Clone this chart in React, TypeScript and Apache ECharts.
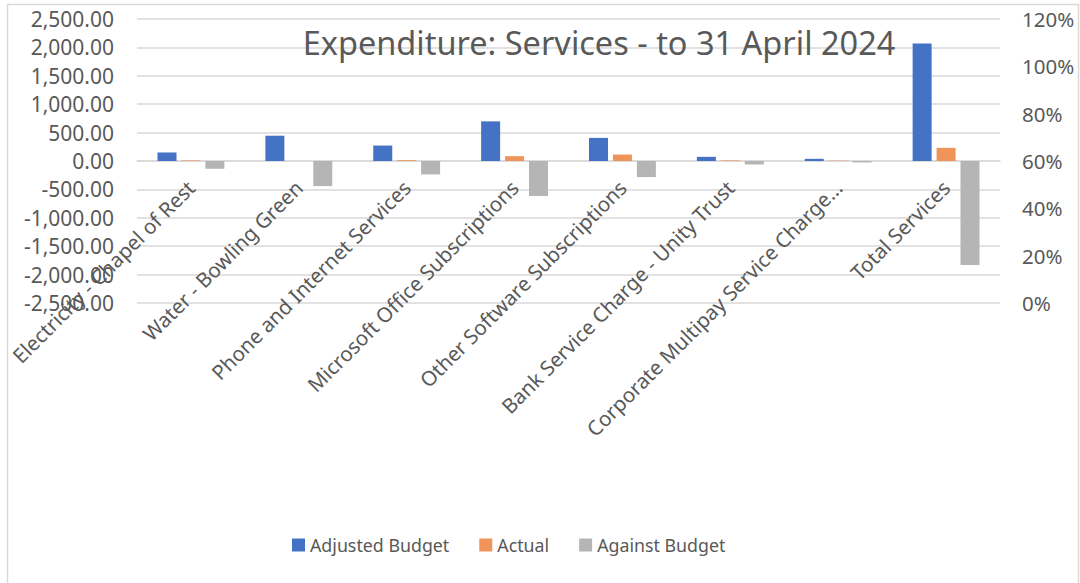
import React, { useEffect, useRef } from "react";
import * as echarts from "echarts";

const categories = [
  "Electricity - Chapel of Rest",
  "Water - Bowling Green",
  "Phone and Internet Services",
  "Microsoft Office Subscriptions",
  "Other Software Subscriptions",
  "Bank Service Charge - Unity Trust",
  "Corporate Multipay Service Charge…",
  "Total Services",
];
const adjustedBudget = [150, 445, 272, 698, 407, 73, 38, 2070];
const actual = [10, 0, 15, 85, 114, 10, 6, 232];
const againstBudget = [-137, -442, -237, -617, -284, -61, -26, -1833];
const leftTicks = { min: -2500, max: 2500, interval: 500 };
const rightTicks = { min: 0, max: 1.2, interval: 0.2 };

const FONT = "'Noto Sans', 'Open Sans', sans-serif";
const TEXT = "#595959";

export default function App() {
  const ref = useRef<HTMLDivElement>(null);
  useEffect(() => {
    if (!ref.current) return;
    const chart = echarts.init(ref.current, undefined, { renderer: "svg" });
    chart.setOption({
      animation: false,
      backgroundColor: "#ffffff",
      textStyle: { fontFamily: FONT },
      title: {
        text: "Expenditure: Services - to 31 April 2024",
        left: 594,
        textAlign: "center",
        top: 21,
        textStyle: { fontFamily: FONT, fontSize: 32.5, fontWeight: "normal", color: TEXT },
      },
      graphic: [
        {
          type: "rect",
          shape: { x: 7.5, y: 4.5, width: 1071, height: 600 },
          style: { fill: "none", stroke: "#d9d9d9", lineWidth: 1.5 },
          silent: true,
        },
      ],
      legend: {
        bottom: 24,
        left: 287,
        itemWidth: 13,
        itemHeight: 13,
        itemGap: 30,
        icon: "rect",
        textStyle: { fontFamily: FONT, fontSize: 17.8, color: TEXT },
        data: ["Adjusted Budget", "Actual", "Against Budget"],
      },
      grid: { left: 137, right: 80, top: 19, bottom: 280, containLabel: false },
      xAxis: {
        type: "category",
        data: categories,
        axisLine: { onZero: true, lineStyle: { color: "#d9d9d9", width: 1.5 } },
        axisTick: { show: false },
        axisLabel: {
          rotate: 45,
          interval: 0,
          fontSize: 20.5,
          color: TEXT,
          fontFamily: FONT,
          margin: -119,
        },
      },
      yAxis: [
        {
          type: "value",
          min: leftTicks.min,
          max: leftTicks.max,
          interval: leftTicks.interval,
          axisLine: { show: false },
          axisTick: { show: false },
          splitLine: { lineStyle: { color: "#d9d9d9", width: 1.5 } },
          axisLabel: {
            fontSize: 21,
            color: TEXT,
            fontFamily: FONT,
            margin: 23,
            formatter: (v: number) =>
              v.toLocaleString("en-US", { minimumFractionDigits: 2, maximumFractionDigits: 2 }),
          },
        },
        {
          type: "value",
          min: rightTicks.min,
          max: rightTicks.max,
          interval: rightTicks.interval,
          axisLine: { show: false },
          axisTick: { show: false },
          splitLine: { show: false },
          axisLabel: {
            fontSize: 20.5,
            color: TEXT,
            fontFamily: FONT,
            margin: 22,
            formatter: (v: number) => Math.round(v * 100) + "%",
          },
        },
      ],
      series: [
        {
          name: "Adjusted Budget",
          type: "bar",
          data: adjustedBudget,
          barWidth: 19,
          barGap: "26%",
          itemStyle: { color: "#4472C4" },
        },
        {
          name: "Actual",
          type: "bar",
          data: actual,
          barWidth: 19,
          barGap: "26%",
          itemStyle: { color: "#F0955A" },
        },
        {
          name: "Against Budget",
          type: "bar",
          data: againstBudget,
          barWidth: 19,
          barGap: "26%",
          itemStyle: { color: "#B5B5B5" },
        },
      ],
    });
    return () => chart.dispose();
  }, []);
  return (
    <div
      ref={ref}
      style={{ position: "absolute", left: 0, top: 0, width: 1080, height: 583 }}
    />
  );
}
